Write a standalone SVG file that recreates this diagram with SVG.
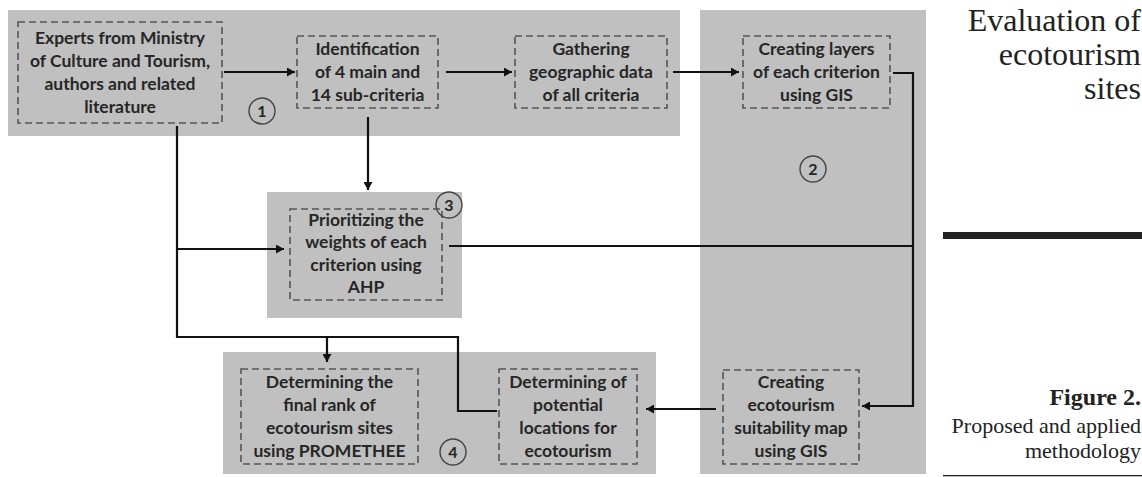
<svg xmlns="http://www.w3.org/2000/svg" width="1142" height="477" viewBox="0 0 1142 477">
<defs>
<style>
.panel{fill:#c0c0c0}
.box{fill:none;stroke:#555;stroke-width:1.6;stroke-dasharray:7 4}
.t{font-family:Lato,"Open Sans","Liberation Sans",sans-serif;font-weight:bold;font-size:17.5px;fill:#262626;text-anchor:middle}
.num{fill:none;stroke:#444;stroke-width:1.4}
.nt{font-family:Lato,"Liberation Sans",sans-serif;font-weight:bold;font-size:16px;fill:#262626;text-anchor:middle}
.c{fill:none;stroke:#111;stroke-width:2.2}
.side{font-family:"Liberation Serif",serif;fill:#222;text-anchor:end}
</style>
<marker id="ah" markerUnits="userSpaceOnUse" markerWidth="9" markerHeight="9" refX="8" refY="4.5" orient="auto">
<path d="M0,0 L8,4.5 L0,9 z" fill="#111"/>
</marker>
</defs>
<rect width="1142" height="477" fill="#fff"/>
<g id="panels">
<rect class="panel" x="8" y="10" width="672" height="126"/>
<rect class="panel" x="700" y="10" width="226" height="464"/>
<rect class="panel" x="267" y="192" width="195" height="126"/>
<rect class="panel" x="223" y="352" width="433" height="122"/>
</g>
<g id="connectors">
<path class="c" d="M224 72 H295" marker-end="url(#ah)"/>
<path class="c" d="M446 72 H512" marker-end="url(#ah)"/>
<path class="c" d="M673 72 H739" marker-end="url(#ah)"/>
<path class="c" d="M893 73 H913 V406 H862" marker-end="url(#ah)"/>
<path class="c" d="M368 117 V190" marker-end="url(#ah)"/>
<path class="c" d="M177 126 V337 H458 V411 H497"/>
<path class="c" d="M177 249 H284" marker-end="url(#ah)"/>
<path class="c" d="M327 337 V362" marker-end="url(#ah)"/>
<path class="c" d="M449 246 H913"/>
<path class="c" d="M716 409 H646" marker-end="url(#ah)"/>
</g>
<g id="n-experts">
<rect class="box" x="18" y="22" width="204" height="101"/>
<text class="t" x="120" y="44">Experts from Ministry</text>
<text class="t" x="120" y="67">of Culture and Tourism,</text>
<text class="t" x="120" y="90">authors and related</text>
<text class="t" x="120" y="113">literature</text>
</g>
<g id="n-ident">
<rect class="box" x="297" y="36" width="141" height="72"/>
<text class="t" x="367.5" y="55">Identification</text>
<text class="t" x="367.5" y="78">of 4 main and</text>
<text class="t" x="367.5" y="101">14 sub-criteria</text>
</g>
<g id="n-gather">
<rect class="box" x="515" y="36" width="152" height="72"/>
<text class="t" x="591" y="55">Gathering</text>
<text class="t" x="591" y="78">geographic data</text>
<text class="t" x="591" y="101">of all criteria</text>
</g>
<g id="n-layers">
<rect class="box" x="743" y="36" width="147" height="72"/>
<text class="t" x="816.5" y="55">Creating layers</text>
<text class="t" x="816.5" y="78">of each criterion</text>
<text class="t" x="816.5" y="101">using GIS</text>
</g>
<g id="n-ahp">
<rect class="box" x="290" y="209" width="152" height="91"/>
<text class="t" x="366" y="226">Prioritizing the</text>
<text class="t" x="366" y="248">weights of each</text>
<text class="t" x="366" y="271">criterion using</text>
<text class="t" x="366" y="293">AHP</text>
</g>
<g id="n-suit">
<rect class="box" x="723" y="370" width="136" height="94"/>
<text class="t" x="791" y="388">Creating</text>
<text class="t" x="791" y="411">ecotourism</text>
<text class="t" x="791" y="434">suitability map</text>
<text class="t" x="791" y="457">using GIS</text>
</g>
<g id="n-potential">
<rect class="box" x="499" y="369" width="138" height="95"/>
<text class="t" x="568" y="388">Determining of</text>
<text class="t" x="568" y="411">potential</text>
<text class="t" x="568" y="434">locations for</text>
<text class="t" x="568" y="457">ecotourism</text>
</g>
<g id="n-rank">
<rect class="box" x="241" y="369" width="177" height="95"/>
<text class="t" x="329.5" y="388">Determining the</text>
<text class="t" x="329.5" y="411">final rank of</text>
<text class="t" x="329.5" y="434">ecotourism sites</text>
<text class="t" x="329.5" y="457">using PROMETHEE</text>
</g>
<g id="labels">
<circle class="num" cx="262" cy="111" r="13"/><text class="nt" x="262" y="117">1</text>
<circle class="num" cx="813" cy="169" r="13"/><text class="nt" x="813" y="175">2</text>
<circle class="num" cx="449" cy="205" r="13"/><text class="nt" x="449" y="211">3</text>
<circle class="num" cx="453" cy="452" r="13"/><text class="nt" x="453" y="458">4</text>
</g>
<g id="side">
<text class="side" x="1141" y="31" font-size="32">Evaluation of</text>
<text class="side" x="1141" y="65" font-size="32">ecotourism</text>
<text class="side" x="1141" y="99" font-size="32">sites</text>
<rect x="943" y="232" width="199" height="7" fill="#222"/>
<text class="side" x="1141" y="405" font-size="24" font-weight="bold">Figure 2.</text>
<text class="side" x="1141" y="433" font-size="22">Proposed and applied</text>
<text class="side" x="1141" y="458" font-size="22">methodology</text>
<rect x="943" y="475" width="199" height="1.3" fill="#222"/>
</g>
</svg>
